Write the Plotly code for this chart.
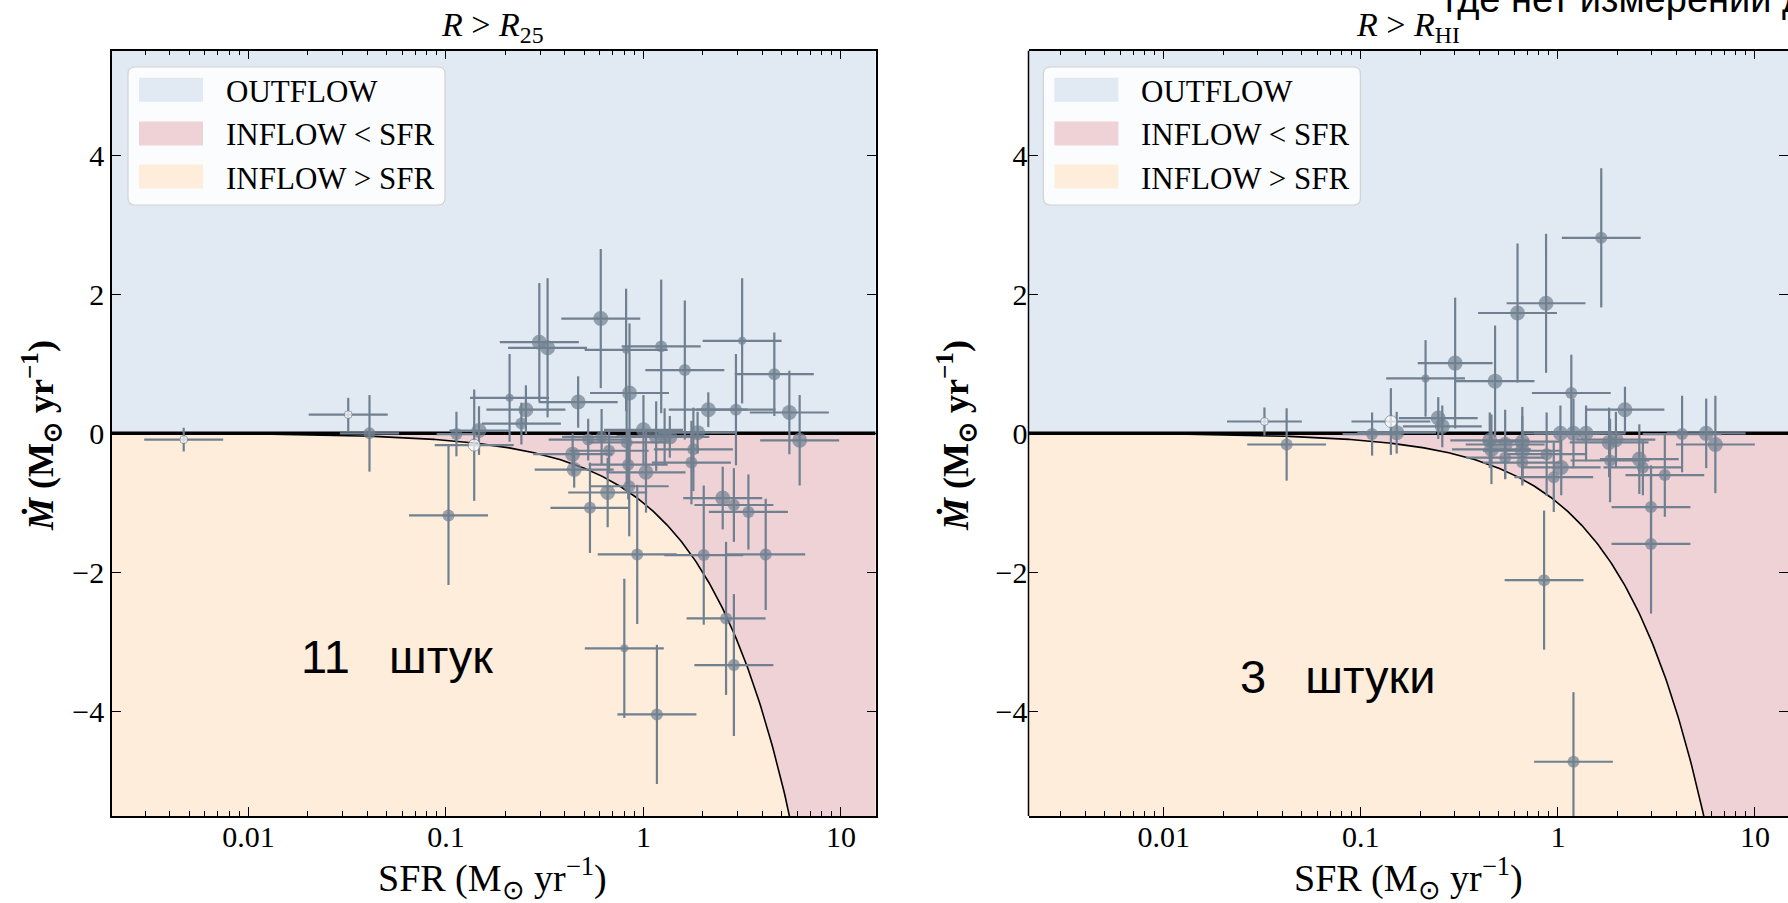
import numpy as np
import plotly.graph_objects as go

W, H = 1788, 903

# ---------------- data: left panel  (R > R25) ----------------
sfr_l = [0.0047, 0.032, 0.041, 0.103, 0.113, 0.139, 0.147, 0.21, 0.254, 0.241,
         0.297, 0.327, 0.608, 0.467, 0.817, 0.85, 1.23, 1.62, 3.16, 4.6,
         2.13, 2.94, 5.48, 6.18, 1.88, 1.0, 0.438, 0.446, 0.525, 0.614,
         0.67, 0.659, 0.536, 0.822, 0.837, 0.847, 1.03, 1.16, 1.28, 1.36,
         1.79, 1.75, 2.52, 2.87, 3.4, 0.93, 2.02, 4.16, 2.62, 2.87,
         0.80, 1.17]
mdot_l = [-0.09, 0.27, 0.00, -1.18, -0.01, -0.17, 0.04, 0.51, 0.34, 0.14,
          1.31, 1.23, 1.65, 0.45, 1.20, 0.58, 1.25, 0.91, 1.33, 0.85,
          0.34, 0.34, 0.30, -0.10, 0.01, 0.05, -0.30, -0.52, -0.09, -0.05,
          -0.25, -0.85, -1.07, -0.13, -0.45, -0.76, -0.56, -0.04, -0.04, -0.05,
          -0.23, -0.42, -0.93, -1.03, -1.13, -1.74, -1.75, -1.74, -2.66, -3.33,
          -3.09, -4.04]
dsfr_l = [0.2, 0.2, 0.15, 0.2, 0.1, 0.2, 0.15, 0.2, 0.2, 0.2,
          0.2, 0.2, 0.2, 0.2, 0.21, 0.2, 0.2, 0.2, 0.2, 0.2,
          0.2, 0.2, 0.2, 0.2, 0.2, 0.2, 0.2, 0.2, 0.2, 0.2,
          0.2, 0.2, 0.2, 0.2, 0.2, 0.2, 0.2, 0.2, 0.2, 0.2,
          0.2, 0.2, 0.2, 0.2, 0.2, 0.2, 0.2, 0.2, 0.2, 0.2,
          0.2, 0.2]
dmdot_l = [0.17, 0.24, 0.55, 1.0, 0.32, 0.8, 0.35, 0.63, 0.35, 0.3,
           0.85, 1.0, 1.0, 0.37, 0.88, 1.0, 0.96, 1.0, 0.9, 0.6,
           0.25, 0.8, 0.6, 0.65, 0.3, 0.5, 0.3, 0.26, 0.3, 0.4,
           0.3, 0.5, 0.65, 0.7, 0.5, 0.72, 0.58, 0.5, 0.4, 0.3,
           0.6, 0.6, 0.45, 0.53, 0.54, 1.0, 1.0, 0.8, 1.1, 1.02,
           1.0, 1.0]
class_l = [1, 1, 2, 2, 2, 2, 3, 1, 3, 2,
           3, 3, 3, 3, 1, 3, 2, 2, 1, 2,
           3, 2, 3, 3, 3, 3, 3, 3, 2, 2,
           2, 3, 2, 2, 2, 2, 3, 3, 3, 3,
           2, 2, 3, 2, 2, 2, 2, 2, 2, 2,
           1, 2]
open_l = [1, 1, 0, 0, 0, 1] + [0] * 46

# ---------------- data: right panel (R > R_HI) ----------------
sfr_r = [0.0324, 0.042, 0.114, 0.142, 0.152, 0.213, 0.301, 0.48, 0.624, 0.871,
         1.66, 1.17, 2.19, 0.247, 0.259, 1.03, 1.2, 1.39, 4.27, 5.66,
         6.3, 0.451, 0.46, 0.54, 0.54, 0.66, 0.66, 0.66, 0.877, 1.04,
         0.953, 1.82, 1.97, 1.84, 2.59, 2.7, 3.49, 2.97, 2.97, 0.851,
         1.2]
mdot_r = [0.17, -0.16, -0.01, 0.17, 0.01, 0.79, 1.01, 0.75, 1.73, 1.87,
          2.81, 0.58, 0.34, 0.22, 0.10, 0.0, 0.0, 0.0, -0.01, 0.0,
          -0.16, -0.10, -0.23, -0.16, -0.35, -0.12, -0.25, -0.42, -0.30, -0.49,
          -0.63, -0.13, -0.09, -0.39, -0.37, -0.49, -0.60, -1.06, -1.59, -2.11,
          -4.72]
dsfr_r = [0.19, 0.2, 0.15, 0.2, 0.2, 0.2, 0.19, 0.2, 0.2, 0.2,
          0.2, 0.2, 0.2, 0.2, 0.2, 0.2, 0.2, 0.2, 0.2, 0.2,
          0.2, 0.2, 0.2, 0.2, 0.2, 0.2, 0.2, 0.2, 0.2, 0.2,
          0.2, 0.2, 0.2, 0.2, 0.2, 0.2, 0.2, 0.2, 0.2, 0.2,
          0.2]
dmdot_r = [0.2, 0.52, 0.31, 0.48, 0.3, 0.55, 0.94, 0.8, 1.0, 1.0,
           1.0, 0.55, 0.33, 0.3, 0.3, 0.4, 0.5, 0.4, 0.55, 0.5,
           0.7, 0.4, 0.5, 0.5, 0.3, 0.5, 0.5, 0.3, 0.6, 0.4,
           0.5, 0.5, 0.4, 0.6, 0.5, 0.4, 0.6, 0.6, 1.0, 1.0,
           1.0]
class_r = [1, 2, 2, 2, 3, 1, 3, 3, 3, 3,
           2, 2, 3, 3, 3, 3, 3, 3, 2, 3,
           3, 3, 3, 3, 2, 3, 3, 2, 2, 3,
           2, 3, 3, 2, 3, 2, 2, 2, 2, 2,
           2]
open_r = [1, 0, 0, 1] + [0] * 37

legend_labels = ["OUTFLOW", "INFLOW &lt; SFR", "INFLOW &gt; SFR"]
panel_titles = ["<i>R</i> &gt; <i>R</i><sub>25</sub>", "<i>R</i> &gt; <i>R</i><sub>HI</sub>"]
counts_text = ["11\u00a0\u00a0\u00a0штук", "3\u00a0\u00a0\u00a0штуки"]
x_ticks = [0.01, 0.1, 1, 10]
x_ticktext = ["0.01", "0.1", "1", "10"]
y_ticks = [-4, -2, 0, 2, 4]
y_ticktext = ["\u22124", "\u22122", "0", "2", "4"]

# ---------------- style ----------------
C_OUT = "rgb(225,233,243)"
C_LT = "rgb(238,210,213)"
C_GT = "rgb(253,237,218)"
C_PT = "rgb(112,128,144)"
SERIF = "Liberation Serif, Times New Roman, serif"
SANS = "Liberation Sans, Arial, sans-serif"
SIZE_MAP = {1: 8, 2: 12, 3: 15}

X_LO, X_HI = 0.002, 15.0
YLIM = 5.5

fig = go.Figure()


def add_panel(sfr, mdot, dsfr, dmdot, cls, opn, xa, ya):
    sfr = np.array(sfr, float)
    mdot = np.array(mdot, float)
    dsfr = np.array(dsfr, float)
    dmdot = np.array(dmdot, float)
    cls = np.array(cls)
    opn = np.array(opn, bool)
    # inflow < SFR region (between the -SFR line and zero)
    xc = np.logspace(np.log10(X_LO), np.log10(X_HI), 500)
    yc = np.maximum(-xc, -YLIM - 0.5)
    fig.add_trace(go.Scatter(x=np.concatenate([xc, [X_HI, X_LO]]),
                             y=np.concatenate([yc, [0, 0]]),
                             fill="toself", fillcolor=C_LT, mode="none",
                             hoverinfo="skip", showlegend=False,
                             xaxis=xa, yaxis=ya))
    # zero line
    fig.add_trace(go.Scatter(x=[X_LO, X_HI], y=[0, 0], mode="lines",
                             line=dict(color="black", width=3.5),
                             showlegend=False, xaxis=xa, yaxis=ya))
    # Mdot = -SFR curve
    fig.add_trace(go.Scatter(x=xc, y=-xc, mode="lines",
                             line=dict(color="black", width=1.6),
                             showlegend=False, xaxis=xa, yaxis=ya))
    for hollow in (False, True):
        m = opn == hollow
        xs = sfr[m]
        fig.add_trace(go.Scatter(
            x=xs, y=mdot[m], mode="markers",
            marker=dict(size=[SIZE_MAP[c] for c in cls[m]],
                        color="white" if hollow else C_PT,
                        line=dict(color=C_PT, width=1 if hollow else 0)),
            error_x=dict(type="data", symmetric=False,
                         array=xs * (10 ** dsfr[m] - 1),
                         arrayminus=xs * (1 - 10 ** (-dsfr[m])),
                         color=C_PT, thickness=2.2, width=0),
            error_y=dict(type="data", array=dmdot[m], color=C_PT,
                         thickness=2.2, width=0),
            showlegend=False, xaxis=xa, yaxis=ya))


add_panel(sfr_l, mdot_l, dsfr_l, dmdot_l, class_l, open_l, "x", "y")
add_panel(sfr_r, mdot_r, dsfr_r, dmdot_r, class_r, open_r, "x2", "y2")

minor_vals = [k * 10.0 ** e for e in range(-3, 2) for k in range(2, 10)
              if X_LO <= k * 10.0 ** e <= X_HI]

ax_common = dict(linecolor="black", linewidth=1.5,
                 mirror="ticks", ticks="inside", tickcolor="black",
                 tickwidth=1.3, showgrid=False, zeroline=False,
                 tickfont=dict(family=SERIF, size=30, color="black"))

xl = dict(type="log", tickvals=x_ticks, ticktext=x_ticktext, ticklen=9,
          showline=True, ticklabelstandoff=-7,
          minor=dict(ticks="inside", ticklen=5, tickvals=minor_vals,
                     tickcolor="black", tickwidth=1, showgrid=False),
          **ax_common)
yl = dict(range=[-YLIM, YLIM], tickvals=y_ticks, ticktext=y_ticktext,
          ticklen=9, **ax_common)

xdomL = [112 / W, 875.5 / W]
xdomR = [1028.5 / W, 1.0]
ydom = [(H - 816) / H, (H - 50.7) / H]

fig.update_layout(
    width=W, height=H, margin=dict(l=0, r=0, t=0, b=0),
    paper_bgcolor="white", plot_bgcolor="white",
    xaxis=dict(domain=xdomL, range=[-2.691, 1.175], anchor="y", **xl),
    yaxis=dict(domain=ydom, anchor="x", showline=True, **yl),
    xaxis2=dict(domain=xdomR, range=[-2.687, 1.168], anchor="y2", **xl),
    yaxis2=dict(domain=ydom, anchor="x2", showline=False, **yl),
)

# region backgrounds
shapes = []
for xa, ya in (("x", "y"), ("x2", "y2")):
    shapes.append(dict(type="rect", xref=xa + " domain", yref=ya, x0=0, x1=1,
                       y0=0, y1=YLIM, fillcolor=C_OUT, line=dict(width=0),
                       layer="below"))
    shapes.append(dict(type="rect", xref=xa + " domain", yref=ya, x0=0, x1=1,
                       y0=-YLIM, y1=0, fillcolor=C_GT, line=dict(width=0),
                       layer="below"))
# left frame edge of the right panel (its right edge is cut off by the page)
shapes.append(dict(type="line", xref="x2 domain", yref="y2 domain",
                   x0=0, x1=0, y0=0, y1=1, line=dict(color="black", width=1.5)))


def px(x):
    return x / W


def py(y):
    return 1 - y / H


def rounded_box(x0, y0, x1, y1, r):
    rx, ry = r / W, r / H
    X0, X1 = px(x0), px(x1)
    Y0, Y1 = py(y0), py(y1)  # Y0 top, Y1 bottom
    return (f"M {X0 + rx},{Y0} L {X1 - rx},{Y0} Q {X1},{Y0} {X1},{Y0 - ry} "
            f"L {X1},{Y1 + ry} Q {X1},{Y1} {X1 - rx},{Y1} L {X0 + rx},{Y1} "
            f"Q {X0},{Y1} {X0},{Y1 + ry} L {X0},{Y0 - ry} Q {X0},{Y0} {X0 + rx},{Y0} Z")


annotations = []
patch_colors = [C_OUT, C_LT, C_GT]
row_patch = [89.7, 133.5, 176.5]
row_text = [91.7, 134.5, 178.3]
for off in (0.0, 915.4):
    shapes.append(dict(type="path", xref="paper", yref="paper",
                       path=rounded_box(128 + off, 67, 445 + off, 205, 7),
                       fillcolor="rgba(255,255,255,0.85)",
                       line=dict(color="rgb(210,210,210)", width=1.2)))
    for c, yc, yt, lab in zip(patch_colors, row_patch, row_text, legend_labels):
        shapes.append(dict(type="rect", xref="paper", yref="paper",
                           x0=px(139 + off), x1=px(203 + off),
                           y0=py(yc - 12), y1=py(yc + 12),
                           fillcolor=c, line=dict(width=0)))
        annotations.append(dict(xref="paper", yref="paper", x=px(224 + off),
                                y=py(yt), xanchor="left", yanchor="middle",
                                text=lab, showarrow=False,
                                font=dict(family=SERIF, size=31, color="black")))

# titles, axis labels
for cx, title in zip((492, 1408), panel_titles):
    annotations.append(dict(xref="paper", yref="paper", x=px(cx), y=py(27),
                            xanchor="center", yanchor="middle", text=title,
                            showarrow=False,
                            font=dict(family=SERIF, size=34, color="black")))
    annotations.append(dict(xref="paper", yref="paper", x=px(cx), y=py(878),
                            xanchor="center", yanchor="middle",
                            text="SFR (M<sub>\u2299</sub> yr<sup>\u22121</sup>)",
                            showarrow=False,
                            font=dict(family=SERIF, size=38, color="black")))
for lx in (41, 956):
    annotations.append(dict(xref="paper", yref="paper", x=px(lx), y=py(436),
                            xanchor="center", yanchor="middle", textangle=-90,
                            text="<b><i>\u1e40</i> (M<sub>\u2299</sub> yr<sup>\u22121</sup>)</b>",
                            showarrow=False,
                            font=dict(family=SERIF, size=36, color="black")))

# hand-added notes
annotations.append(dict(xref="paper", yref="paper", x=px(299), y=py(656),
                        xanchor="left", yanchor="middle", text=counts_text[0],
                        showarrow=False, font=dict(family=SANS, size=47, color="black")))
annotations.append(dict(xref="paper", yref="paper", x=px(1238), y=py(676),
                        xanchor="left", yanchor="middle", text=counts_text[1],
                        showarrow=False, font=dict(family=SANS, size=47, color="black")))
annotations.append(dict(xref="paper", yref="paper", x=px(1443), y=py(-1.2),
                        xanchor="left", yanchor="middle",
                        text="где нет измерений д",
                        showarrow=False, font=dict(family=SANS, size=38, color="black")))

fig.update_layout(shapes=shapes, annotations=annotations)
fig.write_html("out.html", config={"displayModeBar": False},
               post_script="document.body.style.margin='0px';"
                           "document.body.style.overflow='hidden';")
